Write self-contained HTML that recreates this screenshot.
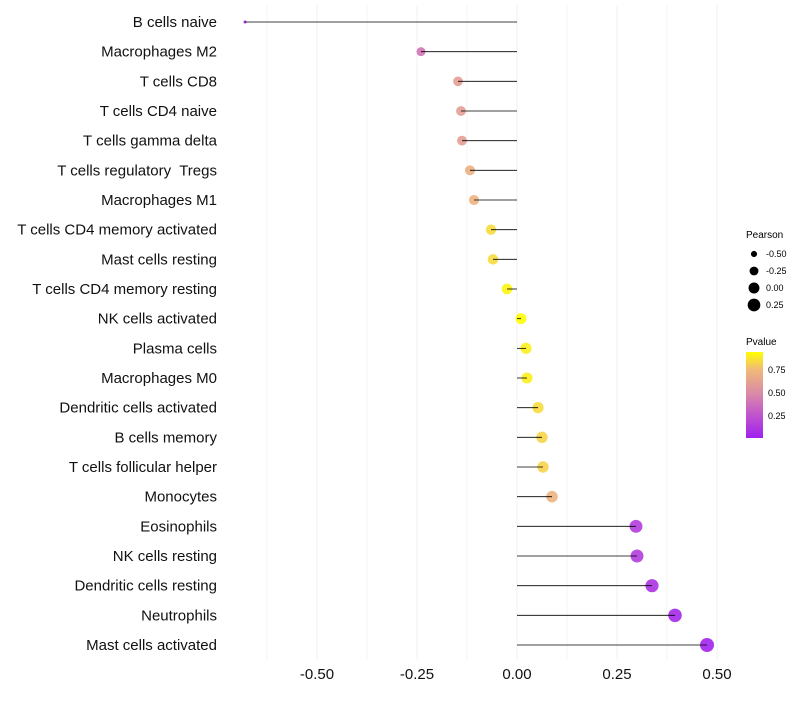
<!DOCTYPE html>
<html><head><meta charset="utf-8"><style>
body{margin:0;background:#fff;font-family:"Liberation Sans",sans-serif;}
text{white-space:pre;}
</style></head><body>
<svg id="c" width="800" height="700" xmlns="http://www.w3.org/2000/svg">
<defs><linearGradient id="pg" x1="0" y1="1" x2="0" y2="0">
<stop offset="0" stop-color="#A020F0"/><stop offset="0.3" stop-color="#C45BC8"/><stop offset="0.52" stop-color="#DA8BA7"/><stop offset="0.8" stop-color="#F0BA78"/><stop offset="1" stop-color="#FFFF00"/></linearGradient></defs>
<g id="grid"></g><g id="marks"></g><g id="labels"></g><g id="ticks"></g>
<g font-size="9" fill="#000">
<text x="746" y="238" font-size="10">Pearson</text>
</g>
<g id="sizeleg"></g>
<g>
<text x="746" y="345" font-size="10">Pvalue</text>
<rect x="746" y="352" width="17" height="86" fill="url(#pg)"/>
<text x="768" y="373" font-size="9">0.75</text>
<text x="768" y="396" font-size="9">0.50</text>
<text x="768" y="419" font-size="9">0.25</text>
</g>
</svg>
<script>
const categories=["B cells naive","Macrophages M2","T cells CD8","T cells CD4 naive","T cells gamma delta","T cells regulatory  Tregs","Macrophages M1","T cells CD4 memory activated","Mast cells resting","T cells CD4 memory resting","NK cells activated","Plasma cells","Macrophages M0","Dendritic cells activated","B cells memory","T cells follicular helper","Monocytes","Eosinophils","NK cells resting","Dendritic cells resting","Neutrophils","Mast cells activated"];
const pearson=[-0.68,-0.24,-0.1475,-0.14,-0.1375,-0.1175,-0.1075,-0.065,-0.06,-0.025,0.01,0.0225,0.025,0.0525,0.0625,0.065,0.0875,0.2975,0.30,0.3375,0.395,0.475];
const pvalue=[0.02,0.4,0.6,0.6,0.6,0.7,0.72,0.85,0.85,0.92,0.94,0.9,0.9,0.85,0.83,0.83,0.72,0.15,0.15,0.1,0.05,0.03];
const tickVals=[-0.5,-0.25,0,0.25,0.5];
const tickLabels=["-0.50","-0.25","0.00","0.25","0.50"];
const legendVals=[-0.5,-0.25,0,0.25];
const legendLabels=["-0.50","-0.25","0.00","0.25"];
const NS="http://www.w3.org/2000/svg";
const x=v=>517+v*400;
const y=i=>22+i*(623/21);
const r=v=>Math.sqrt(Math.max(1,29.8+40.5*v));
const stops=[[0,[160,32,240]],[0.3,[196,91,200]],[0.52,[218,139,167]],[0.8,[240,186,120]],[1,[255,255,0]]];
function col(p){let t=(p-0.011)/(0.946-0.011);t=Math.max(0,Math.min(1,t));
for(let k=1;k<stops.length;k++){if(t<=stops[k][0]){const a=stops[k-1],b=stops[k],f=(t-a[0])/(b[0]-a[0]);
return "rgb("+a[1].map((c,j)=>Math.round(c+(b[1][j]-c)*f)).join(",")+")";}}return "rgb(255,255,0)";}
function mk(tag,attrs,parent){const e=document.createElementNS(NS,tag);for(const k in attrs)e.setAttribute(k,attrs[k]);document.getElementById(parent).appendChild(e);return e;}
const grid=[-0.625,-0.5,-0.375,-0.25,-0.125,0,0.125,0.25,0.375,0.5];
grid.forEach(g=>{const l=mk("line",{x1:x(g),x2:x(g),y1:5,y2:660,stroke:"#f0f0f0","stroke-width":Number.isInteger(g*4)?1:0.6},"grid");

});
categories.forEach((c,i)=>{
const pt=mk("circle",{cx:x(pearson[i]),cy:y(i),r:r(pearson[i]),fill:col(pvalue[i]),"fill-opacity":0.9},"marks");


const ln=mk("line",{x1:x(0),x2:x(pearson[i]),y1:y(i),y2:y(i),stroke:"#000","stroke-width":0.8},"marks");


const t=mk("text",{x:217,y:y(i)+5,"text-anchor":"end","font-size":15,fill:"#111"},"labels");
t.textContent=c;

});
tickVals.forEach((v,i)=>{const t=mk("text",{x:x(v),y:679,"text-anchor":"middle","font-size":15,fill:"#111"},"ticks");
t.textContent=tickLabels[i];

});
legendVals.forEach((v,i)=>{const cy=254+i*17;
const c=mk("circle",{cx:754,cy:cy,r:r(v),fill:"#000"},"sizeleg");


const t=mk("text",{x:766,y:cy+3,"font-size":9,fill:"#000"},"sizeleg");
t.textContent=legendLabels[i];

});
</script>
</body></html>
